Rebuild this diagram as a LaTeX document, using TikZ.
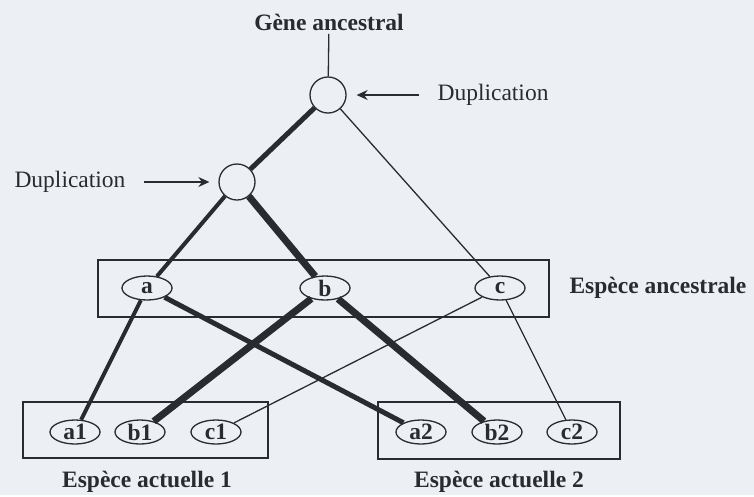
\documentclass[tikz,border=0pt]{standalone}
\usepackage{fontspec}
\setmainfont{Liberation Serif}
\usetikzlibrary{arrows.meta,shapes.geometric}
\definecolor{paper}{RGB}{236,240,244}
\definecolor{ink}{RGB}{40,44,48}
\begin{document}
\begin{tikzpicture}[x=1pt,y=-1pt,
    every node/.style={text=ink,font=\fontsize{23.5}{28}\selectfont},
    label/.style={font=\fontsize{23.5}{28}\selectfont\bfseries},
    gene/.style={draw=ink,line width=1.3pt,ellipse,minimum width=50pt,minimum height=24pt,inner sep=0pt,font=\fontsize{23.5}{28}\selectfont\bfseries},
    dup/.style={draw=ink,line width=1.3pt,circle,minimum size=36pt,inner sep=0pt},
    box/.style={draw=ink,line width=1.3pt},
    w1/.style={draw=ink,line width=1.3pt},
    w2/.style={draw=ink,line width=4pt},
    w3/.style={draw=ink,line width=5pt},
    w4/.style={draw=ink,line width=7pt},
    ptr/.style={draw=ink,line width=1.3pt,-{Stealth[length=11pt,width=10pt]}}]
    \fill[paper] (0,0) rectangle (754,495);
    \draw[box] (98,260) rectangle (549,317);
    \draw[box] (23,402) rectangle (268,458);
    \draw[box] (378,402) rectangle (620,459);
    \node[label] (root) at (329,22) {Gène ancestral};
    \node[dup] (d1) at (328,95) {};
    \node[dup] (d2) at (237,182) {};
    \node[gene] (a) at (147,288) {a};
    \node[gene] (b) at (325,288) {b};
    \node[gene] (c) at (500,288) {c};
    \node[gene] (a1) at (75,432) {a1};
    \node[gene] (b1) at (140,432) {b1};
    \node[gene] (c1) at (216,432) {c1};
    \node[gene] (a2) at (421,432) {a2};
    \node[gene] (b2) at (497,432) {b2};
    \node[gene] (c2) at (572,432) {c2};
    \node[label,anchor=west] (anc) at (566,288) {Espèce ancestrale};
    \node[label] (sp1) at (147,482) {Espèce actuelle 1};
    \node[label] (sp2) at (499,482) {Espèce actuelle 2};
    \node[anchor=west] (dup1) at (434,95) {Duplication};
    \node[anchor=east] (dup2) at (129,182) {Duplication};
    \draw[w1] (root) -- (d1);
    \draw[ptr,shorten <=15pt,shorten >=10pt] (dup1) -- (d1);
    \draw[ptr,shorten <=15pt,shorten >=9pt] (dup2) -- (d2);
    \draw[w1] (d1) -- (c);
    \draw[w3] (d1) -- (d2);
    \draw[w2] (d2) -- (a);
    \draw[w4] (d2) -- (b);
    \draw[w2] (a) -- (a1);
    \draw[w3] (a) -- (a2);
    \draw[w4] (b) -- (b1);
    \draw[w4] (b) -- (b2);
    \draw[w1] (c) -- (c1);
    \draw[w1] (c) -- (c2);
\end{tikzpicture}
\end{document}
